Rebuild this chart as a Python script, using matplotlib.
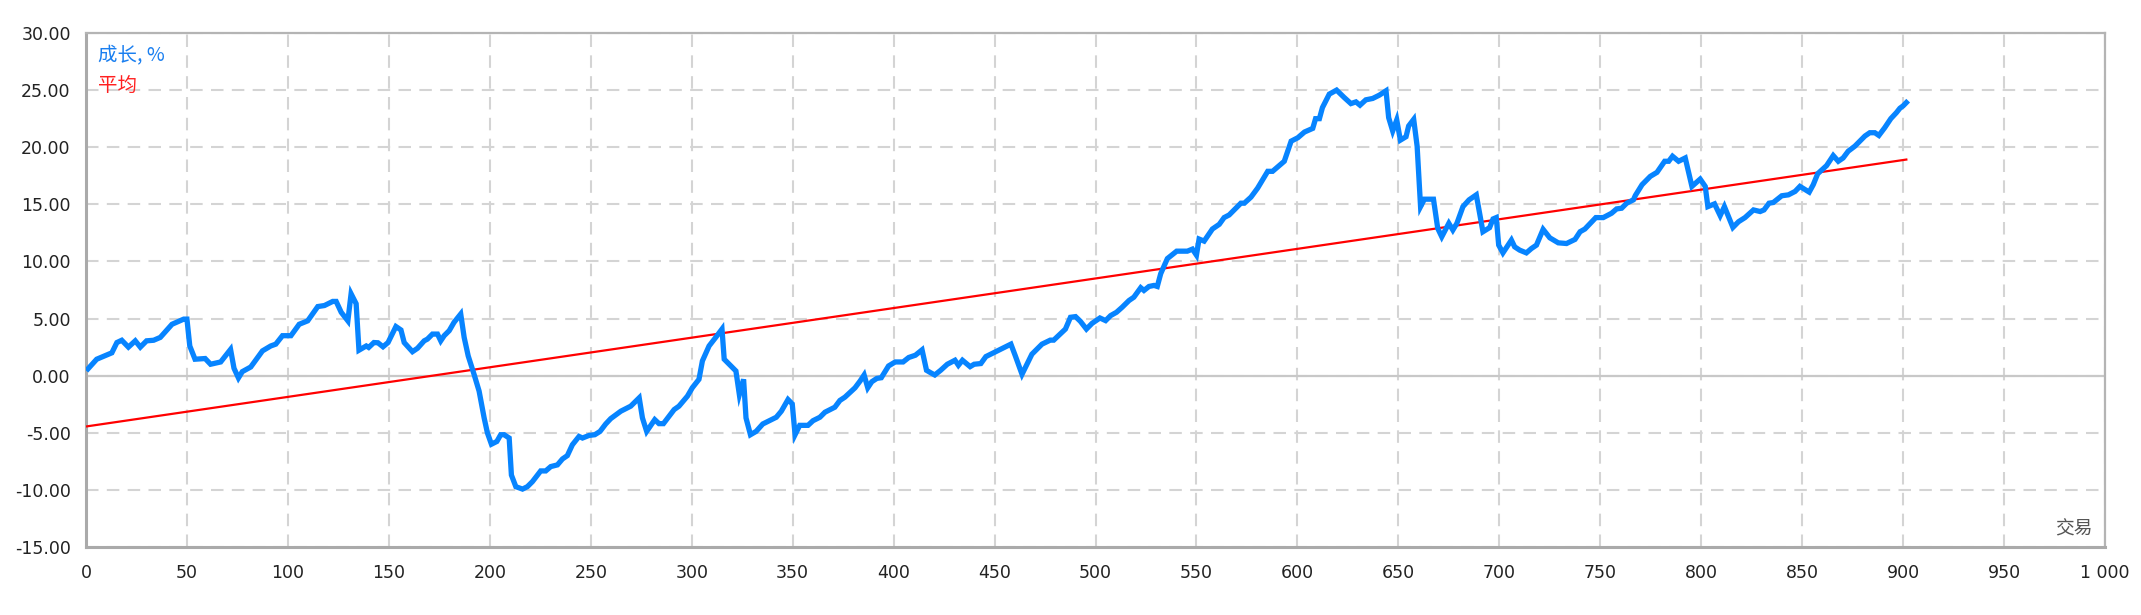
import matplotlib
matplotlib.use("Agg")
import matplotlib.pyplot as plt
from matplotlib.ticker import FuncFormatter

# 交易序号 (x) 与 成长 % (y)
trade_x = [
    1, 5.3, 12.8, 15.3, 17.7, 21, 24.4, 26.9, 30, 33.5, 36.8, 42.6, 48.4, 50,
    51.4, 54, 59, 61.7, 66.7, 71.6, 73.3, 75.5, 77.4, 81.6, 87.4, 91.5, 94,
    97.3, 101.5, 105.6, 109.8, 114.8, 118.1, 122.2, 123.9, 126.4, 129.7, 131.3,
    133.8, 135.2, 138.8, 140, 142.6, 144.6, 147.1, 149.6,
    153.5, 156, 157.6, 161.7, 164.2, 167.5, 169.1, 171.6, 174.1, 175.7, 177.4,
    179.9, 182.3, 185.6, 187.3, 189.3, 192.2, 194.7, 197.2, 198.8, 200.8,
    203.5, 205.4, 207.1, 209.6, 210.7, 212.9, 216.2, 218.6, 221.1, 225.2,
    227.7, 230.2, 233.5, 236, 238.4, 240.9, 244.2, 245.9, 249.2, 252, 254.6,
    257.4, 259.9, 264.9, 269.8, 274, 275.6, 277.7, 281.7, 283.8, 286, 291.3,
    293.7, 297.9, 300.3, 303.6,
    305.3, 308.6, 311.9, 315, 316.1, 319.4, 321.9, 323.6, 325.7, 326.9, 329.1,
    331.9, 335.2, 338.5, 341.9, 344.4, 347.7, 349.8, 351.2, 353.5, 357.6,
    360.1, 363.5, 366, 370.9, 373.4, 375.9, 380.9, 383.4, 385.4, 387.2, 389.2,
    391.7, 393.9, 397.5, 400.8, 404.7, 407.5, 410.8, 414.1, 416.3, 418.3,
    420.4, 423.3, 426.6, 430.4, 432.1, 434.1, 437.9, 439.9, 443.2, 445.7,
    449.8, 458.1,
    460.3, 463.6, 468.5, 473.5, 477.6, 479.3, 485.1, 487.6, 490.1, 492.5,
    495.5, 498.3, 502.2, 505, 507.5, 510.4, 513.2, 516.6, 519, 522.4, 524,
    526.5, 529, 530.6, 532.3, 535.6, 540.2, 545.5, 548, 550, 551.3, 553.8,
    557.9, 561.3, 563.7, 566.2, 572, 573.7, 577, 580.3, 585.3, 587.7, 593.5,
    596.9, 600.2, 603.5, 607.6, 609, 610.9,
    612.4, 615.8, 619.4, 623.2, 626.5, 629, 631, 633.9, 637.3, 640.6, 643.9,
    645.2, 647.2, 649.2, 651, 653.8, 655.1, 657.6, 659.3, 661, 662.9, 667.4,
    669.5, 671.5, 675, 677, 679, 682, 685, 688.6, 691.9, 695.2, 696.9, 698.5,
    699.7, 701.8, 706, 707.6, 710.1, 713.4, 715.9, 718.4, 721.7, 725, 729.2,
    733.3, 737.5, 740, 742.4, 747.8, 751.5, 755.6, 758.1, 760.6, 763.1, 766.4,
    767.4, 770.7, 774.8, 778.1, 781.9, 783.9, 785.8, 788.8, 792.1, 795.4,
    799.5, 802, 803.3, 806.6, 809.4, 811.5, 813.2, 815.7, 818.5, 821.7, 825.9,
    829.2, 831.1, 833.6, 835.7, 839.9, 843.2, 846.5, 848.9, 853.5, 855.5,
    857.7, 862.1, 865.4, 867.9, 870.3, 872.8, 876.1, 881.1, 883.5, 886, 888,
    890.9, 893.9, 896.7, 898.4, 900, 901.6,
]
growth_pct = [
    0.6, 1.44, 2.0, 2.9, 3.1, 2.5, 3.05, 2.5, 3.05, 3.1, 3.35, 4.5, 4.95, 4.95,
    2.6, 1.44, 1.5, 1.0, 1.2, 2.3, 0.65, -0.2, 0.35, 0.76, 2.17, 2.6, 2.76,
    3.5, 3.5, 4.5, 4.8, 6.05, 6.14, 6.5, 6.5, 5.55, 4.8, 7.17,
    6.3, 2.23, 2.6, 2.47, 2.9, 2.88, 2.53, 2.9,
    4.3, 4.0, 2.9, 2.1, 2.4, 3.05, 3.2, 3.64, 3.64, 3.05, 3.5,
    3.94, 4.67, 5.4, 3.35, 1.73, 0.12, -1.35, -3.7, -5.0, -6.0,
    -5.76, -5.17, -5.17, -5.46, -8.7, -9.72, -9.93, -9.72, -9.28, -8.34,
    -8.34, -7.96, -7.81, -7.29, -7.0, -6.05, -5.32, -5.46, -5.23, -5.17, -4.88,
    -4.23, -3.76, -3.11, -2.67, -1.94, -3.7, -4.88, -3.85, -4.2, -4.2, -2.97,
    -2.67, -1.79, -1.06, -0.32,
    1.29, 2.6, 3.35, 4.08, 1.44, 0.85, 0.41, -1.65, -0.32, -3.7, -5.17,
    -4.88, -4.23, -3.94, -3.64, -3.11, -2.09, -2.47, -5.17, -4.35, -4.35,
    -3.94, -3.64, -3.2, -2.76, -2.17, -1.88, -1.06, -0.47, 0.06, -1.06, -0.53,
    -0.24, -0.18, 0.85, 1.2, 1.2, 1.59, 1.79, 2.26, 0.47, 0.26,
    0.06, 0.47, 1.0, 1.35, 0.91, 1.35, 0.79, 1.0, 1.06, 1.67,
    2.03, 2.76,
    1.73, 0.12, 1.88, 2.76, 3.11, 3.11, 4.08, 5.11, 5.17, 4.76,
    4.08, 4.58, 5.05, 4.82, 5.26, 5.55, 5.99, 6.58, 6.87, 7.7, 7.46,
    7.81, 7.9, 7.81, 8.93, 10.25, 10.9, 10.9, 11.08, 10.55, 11.96, 11.78,
    12.84, 13.25, 13.84, 14.07, 15.1, 15.1, 15.63, 16.42, 17.89, 17.89, 18.77,
    20.53, 20.83, 21.33, 21.65, 22.5, 22.5,
    23.47, 24.65, 25.0, 24.35, 23.82, 23.97, 23.68, 24.15, 24.27, 24.56, 24.94,
    22.59, 21.42, 22.39, 20.62, 20.92, 21.86, 22.44, 20.09, 14.8, 15.45, 15.45,
    12.9, 12.16, 13.34, 12.75, 13.34, 14.8, 15.39, 15.83, 12.6, 12.96, 13.72, 13.84,
    11.43, 10.75, 11.87, 11.28, 10.99, 10.75, 11.13, 11.43, 12.81, 12.07, 11.63,
    11.57, 11.93, 12.6, 12.84, 13.84, 13.84, 14.22, 14.6, 14.66, 15.1, 15.39,
    15.78, 16.72, 17.45, 17.8, 18.77, 18.77, 19.21, 18.77, 19.06, 16.57,
    17.21, 16.57, 14.8, 15.04, 14.01, 14.8, 14.07, 12.98, 13.48, 13.84, 14.51,
    14.37, 14.51, 15.1, 15.16, 15.75, 15.83, 16.13, 16.57, 16.07, 16.72,
    17.68, 18.39, 19.27, 18.77, 19.06, 19.65, 20.09, 20.98, 21.27, 21.27, 21.03,
    21.71, 22.5, 23.03, 23.41, 23.62, 23.91,
]

# 平均 (趋势线) 两端
avg_x = [0, 901.6]
avg_y = [-4.45, 18.92]

x_ticks = list(range(0, 1001, 50))
y_ticks = list(range(-15, 31, 5))

fig = plt.figure(figsize=(21.41, 6.15), dpi=100)
ax = fig.add_axes([86 / 2141, 1 - 547 / 615, (2105 - 86) / 2141, (547 - 33) / 615])

ax.set_xlim(0, 1000)
ax.set_ylim(-15, 30)
ax.set_xticks(x_ticks)
ax.set_yticks(y_ticks)
ax.xaxis.set_major_formatter(FuncFormatter(lambda v, p: f"{int(v):,}".replace(",", " ")))
ax.yaxis.set_major_formatter(FuncFormatter(lambda v, p: f"{v:.2f}"))
ax.tick_params(length=0, labelsize=12.5, labelcolor="#222222")
ax.tick_params(axis="x", pad=12)
ax.tick_params(axis="y", pad=11)

# 网格
ax.grid(True, color="#d4d4d4", linewidth=1.5, linestyle=(0, (6, 4)))
ax.set_axisbelow(True)
ax.axhline(0, color="#c8c8c8", linewidth=1.6, zorder=1)

for side in ["left", "bottom"]:
    ax.spines[side].set_color("#aaaaaa")
    ax.spines[side].set_linewidth(2.2)
for side in ["top", "right"]:
    ax.spines[side].set_color("#b4b4b4")
    ax.spines[side].set_linewidth(1.6)

ax.plot(avg_x, avg_y, color="#ff0000", linewidth=1.6, zorder=3)
ax.plot(trade_x, growth_pct, color="#0784ff", linewidth=3.8, zorder=4,
        solid_joinstyle="miter")

cjk = ["Noto Sans CJK SC", "DejaVu Sans"]
ax.text(12 / 2019, 1 - 23 / 514, "成长, %", transform=ax.transAxes, color="#1a7ff0",
        fontsize=14, family=cjk, va="center", ha="left")
ax.text(12 / 2019, 1 - 52 / 514, "平均", transform=ax.transAxes, color="#ff2020",
        fontsize=14, family=cjk, va="center", ha="left")
ax.text(1 - 12 / 2019, 18 / 514, "交易", transform=ax.transAxes, color="#555555",
        fontsize=13.5, family=cjk, va="center", ha="right")

fig.savefig("out.png", dpi=100)
